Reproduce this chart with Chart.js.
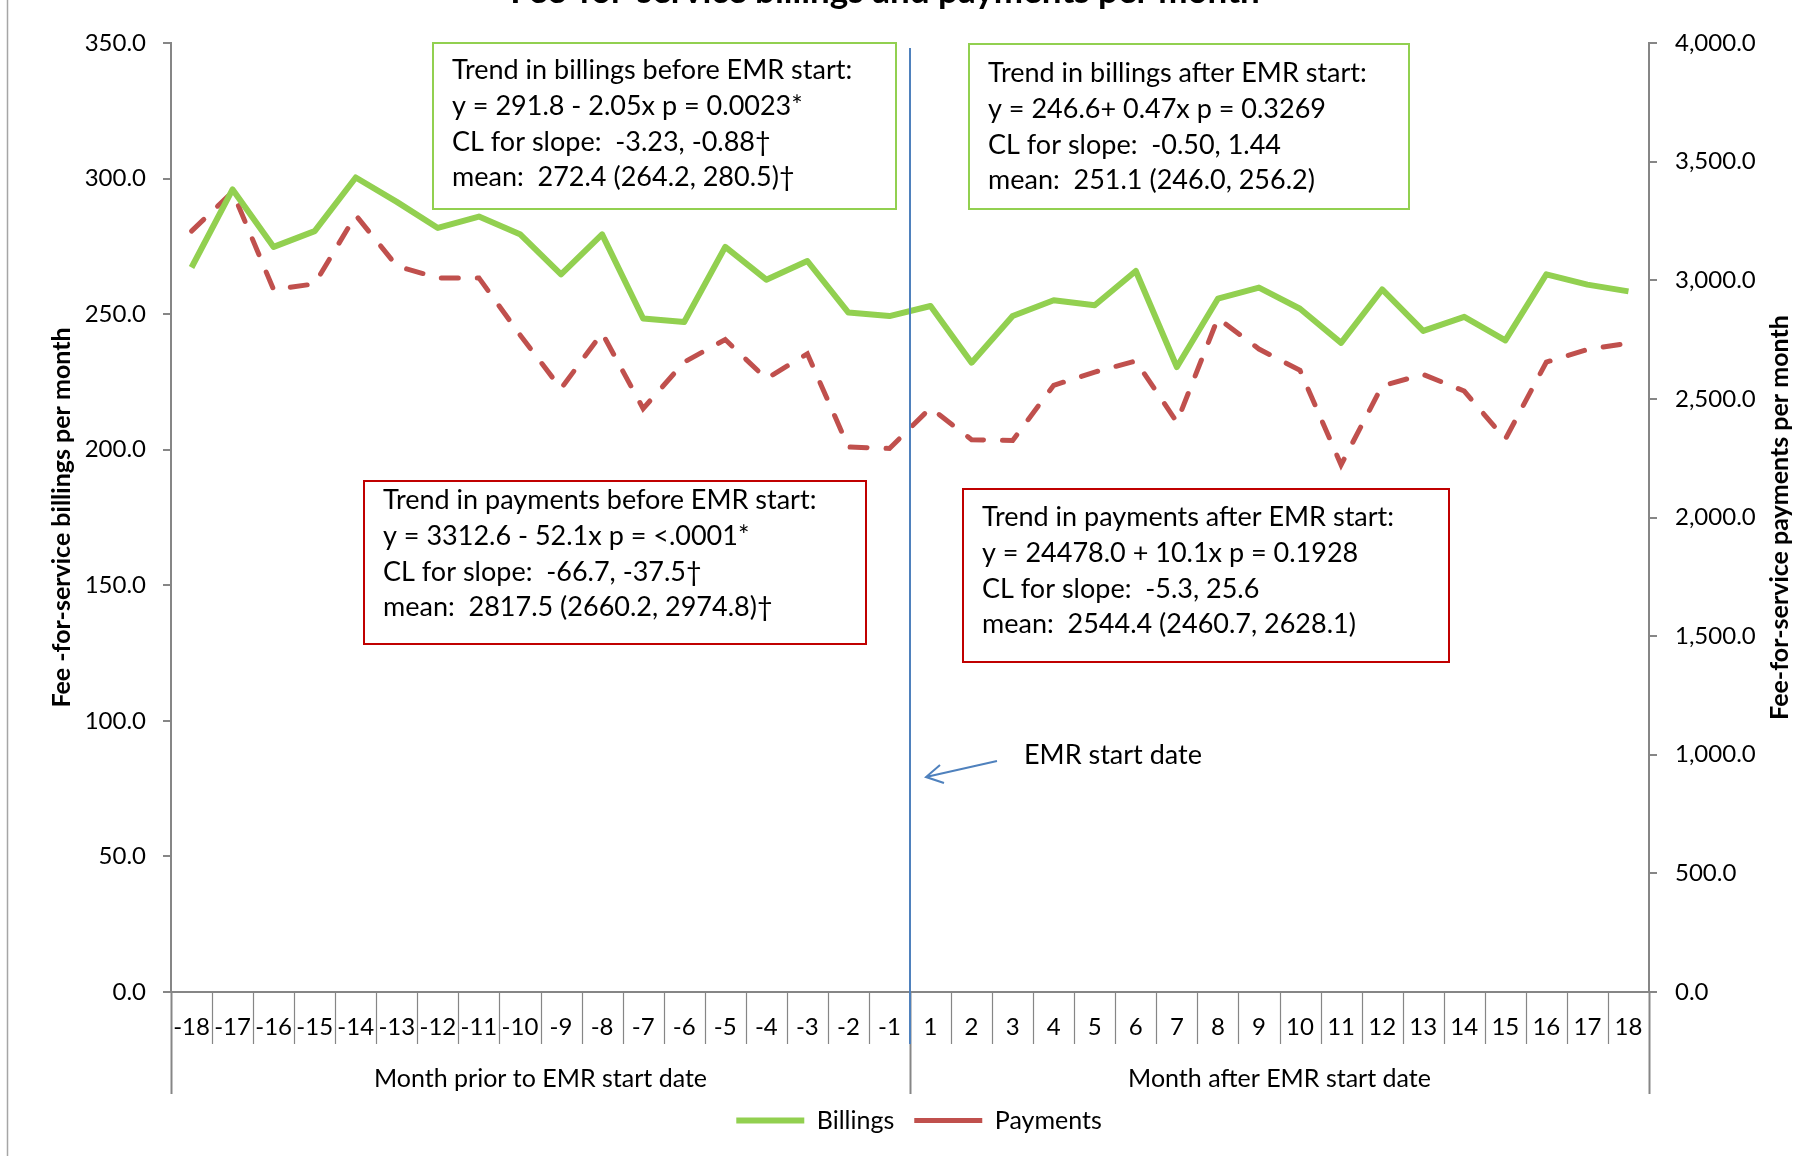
<!DOCTYPE html>
<html>
<head>
<meta charset="utf-8">
<title>Fee-for-service billings and payments per month</title>
<script src="https://cdn.jsdelivr.net/npm/chart.js@4.4.1/dist/chart.umd.min.js"></script>
<style>
  html, body { margin: 0; padding: 0; background: #ffffff; }
  #wrap { width: 1820px; height: 1156px; position: relative; overflow: hidden; }
  canvas { display: block; }
</style>
</head>
<body>
<div id="wrap"><canvas id="chart" width="1820" height="1156"></canvas></div>
<script>
// Months relative to the EMR start date (there is no month 0)
const monthsBefore = ['-18','-17','-16','-15','-14','-13','-12','-11','-10','-9','-8','-7','-6','-5','-4','-3','-2','-1'];
const monthsAfter  = ['1','2','3','4','5','6','7','8','9','10','11','12','13','14','15','16','17','18'];
const months = monthsBefore.concat(monthsAfter);

// Fee-for-service billings per month (left axis)
const billings = [267.2, 296.0, 274.8, 280.6, 300.4, 291.4, 281.8, 286.0, 279.5, 264.7, 279.4, 248.4, 247.1, 274.8, 262.7, 269.6, 250.6, 249.3,
                  253.0, 232.1, 249.3, 255.1, 253.3, 265.9, 230.5, 255.7, 259.8, 252.0, 239.4, 259.1, 243.8, 249.0, 240.3, 264.7, 260.9, 258.4];

// Fee-for-service payments per month (right axis)
const payments = [3207, 3373, 2960, 2985, 3274, 3060, 3010, 3010, 2770, 2543, 2778, 2459, 2655, 2750, 2585, 2690, 2297, 2291,
                  2462, 2328, 2325, 2557, 2613, 2660, 2402, 2840, 2710, 2620, 2222, 2555, 2603, 2533, 2330, 2655, 2708, 2735];

// Axis tick values
const billingTicks = [0, 50, 100, 150, 200, 250, 300, 350];
const paymentTicks = [0, 500, 1000, 1500, 2000, 2500, 3000, 3500, 4000];

// Group captions under the month labels
const groupLabels = ['Month prior to EMR start date', 'Month after EMR start date'];

// Regression summaries shown in the boxes
const billingsBeforeText = ['Trend in billings before EMR start:', 'y = 291.8 - 2.05x p = 0.0023*', 'CL for slope:  -3.23, -0.88\u2020', 'mean:  272.4 (264.2, 280.5)\u2020'];
const billingsAfterText  = ['Trend in billings after EMR start:', 'y = 246.6+ 0.47x p = 0.3269', 'CL for slope:  -0.50, 1.44', 'mean:  251.1 (246.0, 256.2)'];
const paymentsBeforeText = ['Trend in payments before EMR start:', 'y = 3312.6 - 52.1x p = <.0001*', 'CL for slope:  -66.7, -37.5\u2020', 'mean:  2817.5 (2660.2, 2974.8)\u2020'];
const paymentsAfterText  = ['Trend in payments after EMR start:', 'y = 24478.0 + 10.1x p = 0.1928', 'CL for slope:  -5.3, 25.6', 'mean:  2544.4 (2460.7, 2628.1)'];

const chartTitle = 'Fee-for-service billings and payments per month';
const leftTitle = 'Fee -for-service billings per month';
const rightTitle = 'Fee-for-service payments per month';
const emrLabel = 'EMR start date';

const FONT = 'Lato, "Open Sans", sans-serif';
const AXIS_GREY = '#868686';
const GREEN = '#92D050';
const RED = '#C0504D';
const BOX_RED = '#C00000';
const BLUE = '#4F81BD';

// Text boxes, placed in canvas pixels
const boxes = [
  { x: 433, y: 43,  w: 463, h: 166, color: GREEN,   lines: billingsBeforeText, textX: 452, firstBase: 79 },
  { x: 969, y: 44,  w: 440, h: 165, color: GREEN,   lines: billingsAfterText,  textX: 988, firstBase: 82 },
  { x: 364, y: 481, w: 502, h: 163, color: BOX_RED, lines: paymentsBeforeText, textX: 383, firstBase: 509 },
  { x: 963, y: 489, w: 486, h: 173, color: BOX_RED, lines: paymentsAfterText,  textX: 982, firstBase: 526 }
];

const decorations = {
  id: 'decorations',
  beforeDraw(chart) {
    const ctx = chart.ctx;
    ctx.save();
    ctx.fillStyle = '#ffffff';
    ctx.fillRect(0, 0, chart.width, chart.height);
    // outer frame edge on the left
    ctx.strokeStyle = '#a6a6a6';
    ctx.lineWidth = 1.5;
    ctx.beginPath();
    ctx.moveTo(7.5, 0);
    ctx.lineTo(7.5, chart.height);
    ctx.stroke();
    ctx.restore();
  },
  afterDatasetsDraw(chart) {
    const ctx = chart.ctx;
    const xs = chart.scales.x;
    const area = chart.chartArea;
    ctx.save();

    // title, mostly above the top edge
    ctx.fillStyle = '#000';
    ctx.font = 'bold 35px ' + FONT;
    ctx.textAlign = 'center';
    ctx.textBaseline = 'alphabetic';
    ctx.fillText(chartTitle, 885, 3);

    // month dividers below the axis, longer ones around the two groups
    const n = months.length;
    const half = monthsBefore.length;
    ctx.strokeStyle = AXIS_GREY;
    for (let i = 0; i <= n; i++) {
      const px = Math.round(xs.getPixelForValue(i - 0.5)) + 0.5;
      const isGroup = (i === 0 || i === half || i === n);
      ctx.lineWidth = isGroup ? 2 : 1.2;
      ctx.beginPath();
      ctx.moveTo(px, area.bottom);
      ctx.lineTo(px, area.bottom + (isGroup ? 102 : 52));
      ctx.stroke();
    }

    // group captions
    ctx.fillStyle = '#000';
    ctx.font = '25px ' + FONT;
    ctx.textAlign = 'center';
    ctx.textBaseline = 'alphabetic';
    const leftMid = (xs.getPixelForValue(-0.5) + xs.getPixelForValue(half - 0.5)) / 2;
    const rightMid = (xs.getPixelForValue(half - 0.5) + xs.getPixelForValue(n - 0.5)) / 2;
    ctx.fillText(groupLabels[0], leftMid, area.bottom + 95);
    ctx.fillText(groupLabels[1], rightMid, area.bottom + 95);

    // EMR start marker
    const ex = xs.getPixelForValue(half - 0.5);
    ctx.strokeStyle = BLUE;
    ctx.lineWidth = 2;
    ctx.beginPath();
    ctx.moveTo(ex, 48);
    ctx.lineTo(ex, area.bottom + 52);
    ctx.stroke();

    // arrow pointing at the marker
    const tipX = ex + 16, tipY = 777;
    const tailX = ex + 87, tailY = 761;
    ctx.lineWidth = 2;
    ctx.beginPath();
    ctx.moveTo(tailX, tailY);
    ctx.lineTo(tipX, tipY);
    ctx.moveTo(tipX + 14, tipY - 12);
    ctx.lineTo(tipX, tipY);
    ctx.lineTo(tipX + 18, tipY + 6);
    ctx.stroke();

    ctx.fillStyle = '#000';
    ctx.font = '27px ' + FONT;
    ctx.textAlign = 'left';
    ctx.fillText(emrLabel, ex + 114, 764);

    // regression boxes
    ctx.font = '27px ' + FONT;
    ctx.textAlign = 'left';
    boxes.forEach(b => {
      ctx.fillStyle = '#ffffff';
      ctx.fillRect(b.x, b.y, b.w, b.h);
      ctx.strokeStyle = b.color;
      ctx.lineWidth = 2;
      ctx.strokeRect(b.x, b.y, b.w, b.h);
      ctx.fillStyle = '#000';
      b.lines.forEach((t, k) => ctx.fillText(t, b.textX, b.firstBase + k * 35.8));
    });

    // axis titles, both reading bottom to top
    ctx.font = 'bold 25px ' + FONT;
    ctx.textAlign = 'center';
    ctx.textBaseline = 'middle';
    const midY = (area.top + area.bottom) / 2;
    ctx.save();
    ctx.translate(62, midY);
    ctx.rotate(-Math.PI / 2);
    ctx.fillText(leftTitle, 0, 0);
    ctx.restore();
    ctx.save();
    ctx.translate(1780, midY);
    ctx.rotate(-Math.PI / 2);
    ctx.fillText(rightTitle, 0, 0);
    ctx.restore();

    ctx.restore();
  }
};

const tickFont = { family: FONT, size: 24 };

new Chart(document.getElementById('chart'), {
  type: 'line',
  data: {
    labels: months,
    datasets: [
      {
        label: 'Billings',
        data: billings,
        yAxisID: 'yBill',
        borderColor: GREEN,
        backgroundColor: GREEN,
        borderWidth: 6,
        pointRadius: 0,
        tension: 0,
        fill: false,
        borderJoinStyle: 'round'
      },
      {
        label: 'Payments',
        data: payments,
        yAxisID: 'yPay',
        borderColor: RED,
        backgroundColor: RED,
        borderWidth: 5,
        borderDash: [17, 19],
        borderCapStyle: 'round',
        pointRadius: 0,
        tension: 0,
        fill: false
      }
    ]
  },
  options: {
    responsive: false,
    animation: false,
    devicePixelRatio: 1,
    layout: { padding: { top: 43, left: 18, right: 0, bottom: 13 } },
    plugins: {
      title: { display: false },
      tooltip: { enabled: false },
      legend: {
        position: 'bottom',
        labels: {
          usePointStyle: true,
          pointStyle: 'line',
          pointStyleWidth: 68,
          color: '#000',
          font: { family: FONT, size: 25 },
          padding: 20
        }
      }
    },
    scales: {
      x: {
        type: 'category',
        offset: true,
        grid: { display: false, drawTicks: false },
        border: { display: true, color: AXIS_GREY, width: 2 },
        ticks: { autoSkip: false, maxRotation: 0, minRotation: 0, padding: 21, color: '#000', font: tickFont },
        afterFit(scale) { scale.height = 96; }
      },
      yBill: {
        position: 'left',
        min: 0,
        max: 350,
        afterBuildTicks(scale) { scale.ticks = billingTicks.map(v => ({ value: v })); },
        ticks: { padding: 17, color: '#000', font: tickFont, callback: v => v.toFixed(1) },
        grid: { drawOnChartArea: false, drawTicks: true, tickLength: 8, color: AXIS_GREY, lineWidth: 2 },
        border: { display: true, color: AXIS_GREY, width: 2 },
        afterFit(scale) { scale.width = 153; }
      },
      yPay: {
        position: 'right',
        min: 0,
        max: 4000,
        afterBuildTicks(scale) { scale.ticks = paymentTicks.map(v => ({ value: v })); },
        ticks: {
          padding: 18, color: '#000', font: tickFont,
          callback: v => v.toLocaleString('en-US', { minimumFractionDigits: 1, maximumFractionDigits: 1 })
        },
        grid: { drawOnChartArea: false, drawTicks: true, tickLength: 8, color: AXIS_GREY, lineWidth: 2 },
        border: { display: true, color: AXIS_GREY, width: 2 },
        afterFit(scale) { scale.width = 171; }
      }
    }
  },
  plugins: [decorations]
});
</script>
</body>
</html>
